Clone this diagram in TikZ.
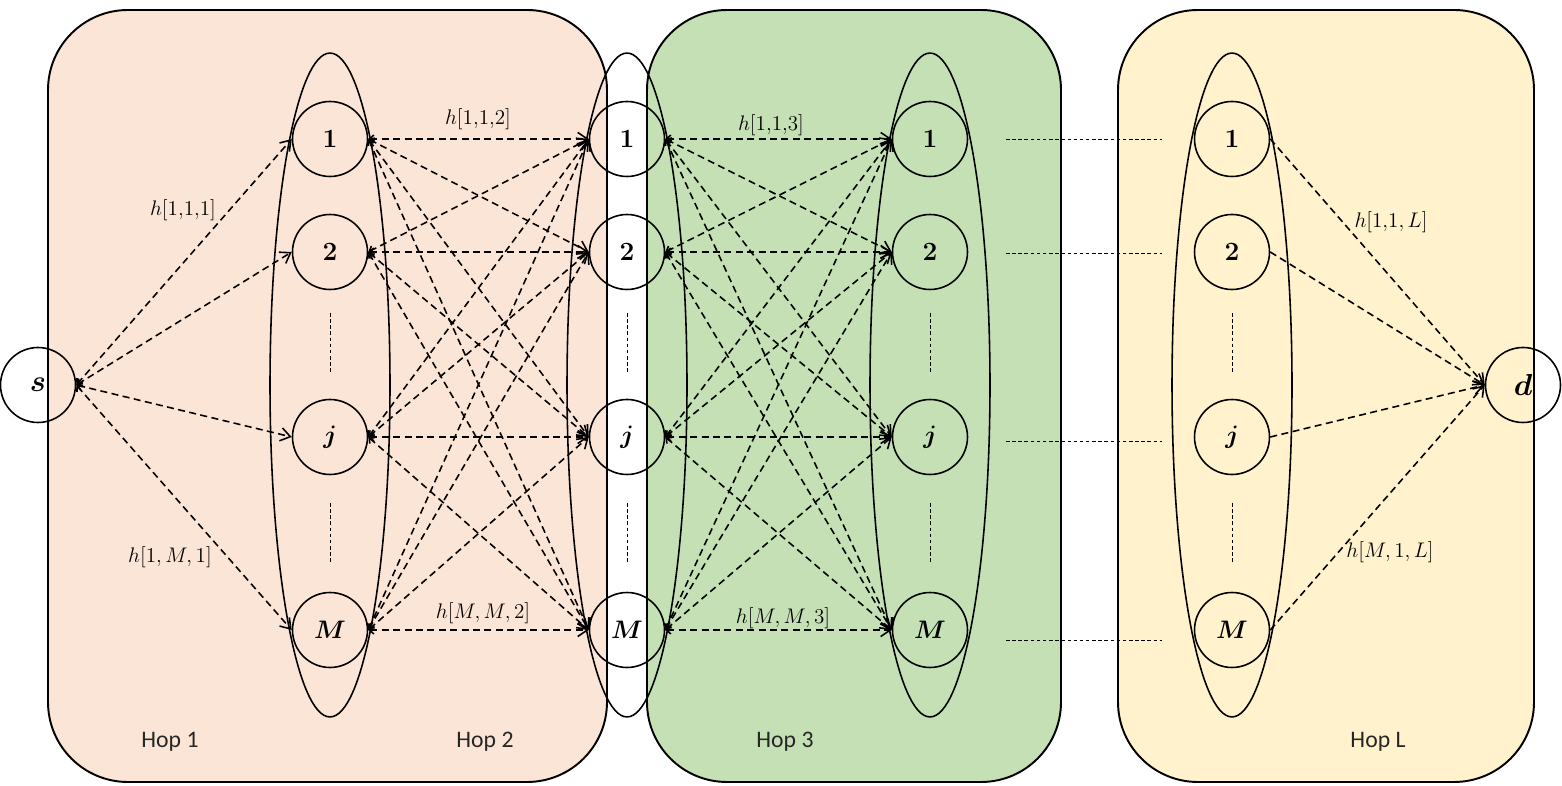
\documentclass[tikz,border=0pt]{standalone}
\usepackage{fontspec}
\setsansfont{Carlito}
\usepackage{bm}
\usetikzlibrary{arrows.meta,shapes.geometric}
\definecolor{peach}{HTML}{FBE5D6}
\definecolor{leaf}{HTML}{C5E0B4}
\definecolor{cream}{HTML}{FFF2CC}
\begin{document}
\begin{tikzpicture}[x=0.02cm,y=-0.02cm,
  hopbox/.style={draw=black,line width=1.1pt,rounded corners=1.6cm},
  relay/.style={circle,draw=black,line width=0.9pt,minimum size=1.5cm,inner sep=0pt,font=\fontsize{15}{17}\selectfont},
  endnode/.style={relay,font=\fontsize{19}{21}\selectfont},
  group/.style={ellipse,draw=black,line width=0.9pt,minimum width=2.4cm,minimum height=13.28cm,inner sep=0pt},
  link/.style={line width=0.9pt,dash pattern=on 4pt off 2.5pt,
    arrows={Straight Barb[length=2.5pt,width=4.5pt]-Straight Barb[length=5.5pt,width=7.5pt]}},
  lastlink/.style={line width=0.9pt,dash pattern=on 4pt off 2.5pt,
    arrows={-Straight Barb[length=5.5pt,width=7.5pt]}},
  dots/.style={line width=0.4pt,dash pattern=on 2pt off 1.5pt},
  gain/.style={font=\fontsize{12}{14}\selectfont,inner sep=1pt},
  hoplabel/.style={font=\sffamily\fontsize{13.5}{16}\selectfont,text=black!85}]
\useasboundingbox (0,0) rectangle (1562,786);
% hop regions
\draw[hopbox,fill=peach] (48,10) rectangle (607,782);
\draw[hopbox,fill=leaf] (647,10) rectangle (1061,782);
\draw[hopbox,fill=cream] (1118,10) rectangle (1534,782);
% groups of relays
\node[group] (ga) at (330,385) {};
\node[group] (gb) at (627,385) {};
\node[group] (gc) at (930,385) {};
\node[group] (gd) at (1232,385) {};
% relay nodes
\foreach \c/\x in {a/330,b/627,c/930,e/1232}{
  \node[relay] (\c1) at (\x,139) {\textbf{1}};
  \node[relay] (\c2) at (\x,252) {\textbf{2}};
  \node[relay] (\c j) at (\x,437) {$\bm{j}$};
  \node[relay] (\c M) at (\x,630) {$\bm{M}$};
  \draw[dots] (\x,313) -- (\x,373);
  \draw[dots] (\x,503) -- (\x,563);
}
\node[endnode] (s) at (38,385) {$\bm{s}$};
\node[endnode] (d) at (1523,385) {$\bm{d}$};
% links
\foreach \i in {1,2,j,M}{
  \draw[link] (s.east) -- (a\i.west);
  \draw[lastlink] (e\i.east) -- (d.west);
  \foreach \k in {1,2,j,M}{
    \draw[link] (a\i.east) -- (b\k.west);
    \draw[link] (b\i.east) -- (c\k.west);
  }
}
% skipped hops
\foreach \n/\y in {1/139,2/253,3/441,4/640}{
  \coordinate (gl\n) at (1006,\y);
  \coordinate (gr\n) at (1162,\y);
  \draw[dots] (gl\n) -- (gr\n);
}
% gain labels
\node[gain] (h111) at (183,210) {$h[1{,}1{,}1]$};
\node[gain] (h112) at (478,119) {$h[1{,}1{,}2]$};
\node[gain] (h113) at (771,125) {$h[1{,}1{,}3]$};
\node[gain] (h1M1) at (170,557) {$h[1,M,1]$};
\node[gain] (hMM2) at (483,613) {$h[M,M,2]$};
\node[gain] (hMM3) at (783,618) {$h[M,M,3]$};
\node[gain] (h11L) at (1391,222) {$h[1{,}1,L]$};
\node[gain] (hM1L) at (1390,552) {$h[M,1,L]$};
% hop labels
\node[hoplabel] (hop1) at (170,742) {Hop 1};
\node[hoplabel] (hop2) at (485,742) {Hop 2};
\node[hoplabel] (hop3) at (785,742) {Hop 3};
\node[hoplabel] (hopL) at (1378,742) {Hop L};
\end{tikzpicture}
\end{document}
